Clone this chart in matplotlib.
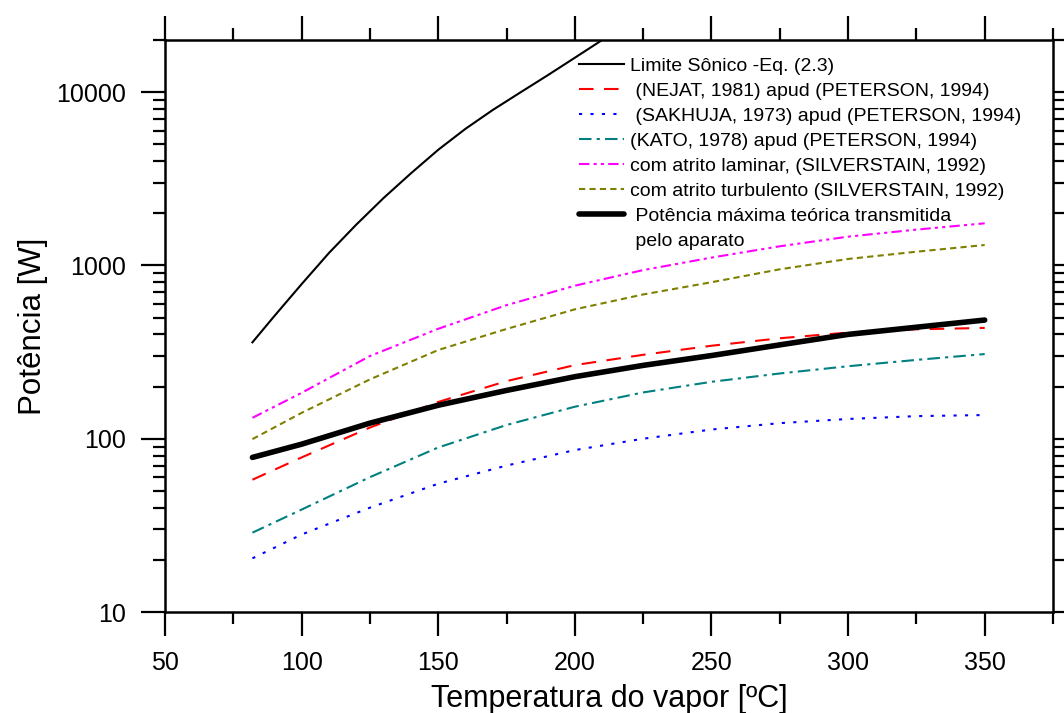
import matplotlib
matplotlib.use('Agg')
import matplotlib.pyplot as plt
from matplotlib.ticker import FixedLocator, LogLocator, NullFormatter

plt.rcParams['font.family'] = ['Liberation Sans', 'DejaVu Sans']

# temperaturas [ºC]
t = [82, 100, 125, 150, 175, 200, 225, 250, 275, 300, 325, 350]

# limite sonico (sai do grafico por volta de 210 ºC)
t_son = [82, 90, 100, 110, 120, 130, 140, 150, 160, 170, 180, 190, 200, 210, 220]
p_son = [360, 510, 780, 1180, 1720, 2450, 3400, 4650, 6150, 7900, 9950, 12500, 15800, 20000, 25000]

p_nejat = [58, 78, 116, 163, 215, 266, 305, 344, 380, 410, 428, 436]
p_sakhuja = [20.4, 28, 40, 55, 70, 86, 100, 113, 123, 130, 135, 137]
p_kato = [28.7, 39, 60, 89, 120, 153, 185, 213, 238, 262, 285, 308]
p_laminar = [132, 184, 300, 431, 590, 764, 940, 1110, 1290, 1466, 1610, 1750]
p_turb = [99.5, 141, 220, 325, 430, 558, 680, 800, 950, 1090, 1200, 1312]
p_max = [78, 93, 123, 156, 190, 228, 265, 302, 348, 400, 440, 484]

fig = plt.figure(figsize=(10.64, 7.13), dpi=100)
ax = fig.add_axes([165 / 1064, 1 - 612 / 713, (1053 - 165) / 1064, (612 - 40) / 713])

ax.plot(t_son, p_son, color='black', lw=1.5, label='Limite Sônico -Eq. (2.3)')
ax.plot(t, p_nejat, color='red', lw=1.5, dashes=(7, 5), label=' (NEJAT, 1981) apud (PETERSON, 1994)')
ax.plot(t, p_sakhuja, color='blue', lw=1.5, dashes=(1.5, 4), label=' (SAKHUJA, 1973) apud (PETERSON, 1994)')
ax.plot(t, p_kato, color='teal', lw=1.5, dashes=(6, 2.5, 1.5, 2.5), label='(KATO, 1978) apud (PETERSON, 1994)')
ax.plot(t, p_laminar, color='magenta', lw=1.5, dashes=(5, 2, 1.5, 2, 1.5, 2), label='com atrito laminar, (SILVERSTAIN, 1992)')
ax.plot(t, p_turb, color='olive', lw=1.5, dashes=(3, 2), label='com atrito turbulento (SILVERSTAIN, 1992)')
ax.plot(t, p_max, color='black', lw=4, solid_capstyle='round',
        label=' Potência máxima teórica transmitida')
# segunda linha do rotulo, sem simbolo
ax.plot([], [], color='none', label=' pelo aparato')

ax.set_yscale('log')
ax.set_xlim(50, 375)
ax.set_ylim(10, 20000)

ax.xaxis.set_major_locator(FixedLocator([50, 100, 150, 200, 250, 300, 350]))
ax.xaxis.set_minor_locator(FixedLocator([75, 125, 175, 225, 275, 325, 375]))
ax.yaxis.set_major_locator(FixedLocator([10, 100, 1000, 10000]))
ax.yaxis.set_minor_locator(LogLocator(base=10, subs=range(2, 10), numticks=20))
ax.yaxis.set_minor_formatter(NullFormatter())
ax.set_yticklabels(['10', '100', '1000', '10000'])

ax.tick_params(which='both', direction='out', top=True, right=True, width=1.6,
               labelsize=18, pad=11)
ax.tick_params(which='major', length=17)
ax.tick_params(which='minor', length=8.5)
for s in ax.spines.values():
    s.set_linewidth(1.8)

ax.set_xlabel('Temperatura do vapor [ºC]', fontsize=22)
ax.xaxis.set_label_coords(0.5, (612 - 707) / 572)
ax.xaxis.label.set_va('baseline')
ax.set_ylabel('Potência [W]', fontsize=22.5, labelpad=6)

ax.legend(loc='upper left', bbox_to_anchor=(0.457, 0.983), frameon=False, fontsize=14,
          handlelength=2.35, handletextpad=0.3, labelspacing=0.38, borderaxespad=0)

fig.savefig('out.png', dpi=100)
